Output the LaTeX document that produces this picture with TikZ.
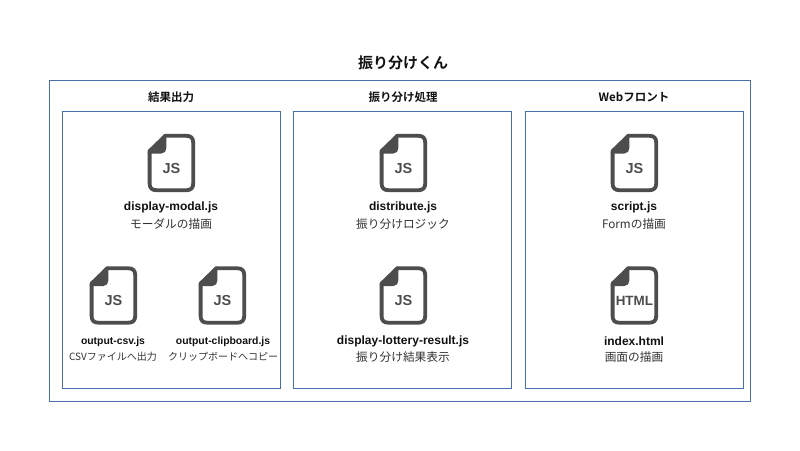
\documentclass[tikz,border=0pt]{standalone}
\usepackage{fontspec}
\setmainfont{Liberation Sans}
\newfontfamily\jp{Noto Sans CJK JP}[BoldFont={Noto Sans CJK JP Bold}]
\definecolor{boxblue}{HTML}{4A6EA9}
\definecolor{icongray}{HTML}{4D4D4D}
\definecolor{txt}{HTML}{111111}
\definecolor{subtxt}{HTML}{333333}
\tikzset{
  frame/.style={draw=boxblue,line width=0.9pt,fill=white},
  heading/.style={anchor=center,inner sep=0pt,text=txt,font=\fontsize{11.5}{13}\selectfont\jp\bfseries},
  maintitle/.style={heading,font=\fontsize{15}{17}\selectfont\jp\bfseries},
  fname/.style={anchor=center,inner sep=0pt,text=txt,font=\fontsize{12}{14}\selectfont\bfseries},
  fnamesmall/.style={fname,font=\fontsize{10.4}{12}\selectfont\bfseries},
  desc/.style={anchor=center,inner sep=0pt,text=subtxt,font=\fontsize{11.7}{13}\selectfont\jp},
  descsmall/.style={desc,font=\fontsize{10}{12}\selectfont\jp},
  icontext/.style={anchor=center,inner sep=0pt,text=icongray,font=\fontsize{14.5}{16}\selectfont\bfseries},
  pics/fileicon/.style={code={
    \draw[icongray,line width=3.8pt,line join=round,fill=white]
      (-6,-27.2) -- (15,-27.2) .. controls (19.5,-27.2) and (21.8,-25) .. (21.8,-20.5)
      -- (21.8,20.5) .. controls (21.8,25) and (19.5,27.2) .. (15,27.2)
      -- (-15,27.2) .. controls (-19.5,27.2) and (-21.8,25) .. (-21.8,20.5)
      -- (-21.8,-12) -- cycle;
    \fill[icongray,line join=round] (-23.5,-11) -- (-7,-29) -- (-5,-29)
      -- (-5,-15) .. controls (-5,-12) and (-7,-9.5) .. (-10,-9.5) -- (-23.5,-9.5) -- cycle;
    \node[icontext] (t) at (0,5.3) {#1};
  }}
}
\begin{document}
\begin{tikzpicture}[x=1pt,y=-1pt]
\useasboundingbox[fill=white] (0,0) rectangle (800,450);
\node[maintitle] (title) at (403,62.6) {振り分けくん};
\draw[frame] (49.1,80) rectangle (750.9,401.9);
\draw[frame] (62.1,111) rectangle (280.9,388.9);
\draw[frame] (293.1,111) rectangle (511.9,388.9);
\draw[frame] (525.1,111) rectangle (743.9,388.9);
\node[heading] (h1) at (171,97.4) {結果出力};
\node[heading] (h2) at (403,97.4) {振り分け処理};
\node[heading] (h3) at (634,97.4) {Webフロント};
% result output
\pic (i1) at (171.4,163) {fileicon=JS};
\node[fname] (a1) at (171,207) {display-modal.js};
\node[desc] (a2) at (171,224) {モーダルの描画};
\pic (i2) at (113.4,295.5) {fileicon=JS};
\node[fnamesmall] (b1) at (113,342) {output-csv.js};
\node[descsmall] (b2) at (113,356.5) {CSVファイルへ出力};
\pic (i3) at (222.4,295.5) {fileicon=JS};
\node[fnamesmall] (c1) at (223,342) {output-clipboard.js};
\node[descsmall] (c2) at (223,356.5) {クリップボードへコピー};
% distribution
\pic (i4) at (403.4,163) {fileicon=JS};
\node[fname] (d1) at (403,207) {distribute.js};
\node[desc] (d2) at (403,224) {振り分けロジック};
\pic (i5) at (403.4,295.5) {fileicon=JS};
\node[fname] (e1) at (403,341) {display-lottery-result.js};
\node[desc] (e2) at (403,357) {振り分け結果表示};
% web front
\pic (i6) at (634.4,163) {fileicon=JS};
\node[fname] (f1) at (634,207) {script.js};
\node[desc] (f2) at (634,224) {Formの描画};
\pic (i7) at (634.4,295.5) {fileicon={\fontsize{13.4}{15}\selectfont HTML}};
\node[fname] (g1) at (634,341) {index.html};
\node[desc] (g2) at (634,357) {画面の描画};
\end{tikzpicture}
\end{document}
